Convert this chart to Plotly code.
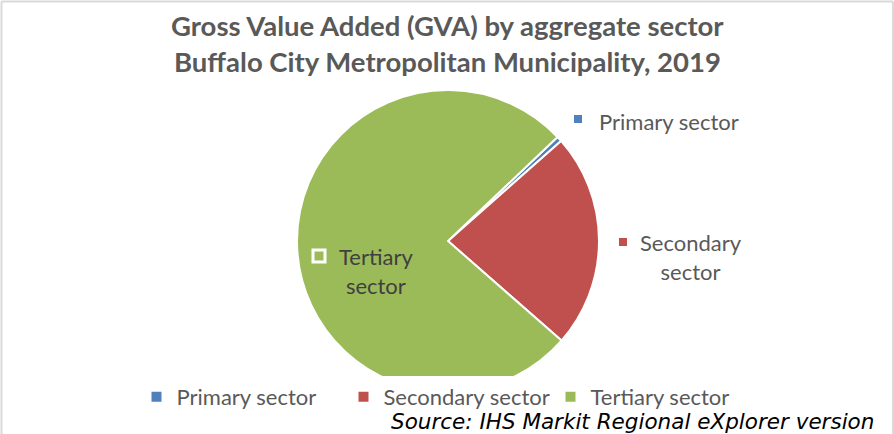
import plotly.graph_objects as go

W, H = 894, 434

sectors = ["Primary sector", "Secondary sector", "Tertiary sector"]
gva_share = [0.55, 23.0, 76.45]
colors = ["#4F81BD", "#C0504D", "#9BBB59"]

title_lines = ["Gross Value Added (GVA) by aggregate sector",
               "Buffalo City Metropolitan Municipality, 2019"]
source_note = "Source: IHS Markit Regional eXplorer version"

TEXT = "#595959"
FONT = "Lato"


def px(x):
    return x / W


def py(y):
    return 1 - y / H


fig = go.Figure()
fig.add_trace(go.Pie(
    labels=sectors,
    values=gva_share,
    sort=False,
    direction="clockwise",
    rotation=46.5,
    marker=dict(colors=colors, line=dict(color="white", width=2)),
    textinfo="none",
    hoverinfo="label+percent",
    domain=dict(x=[px(297), px(599)], y=[py(392), py(90)]),
))

annotations = [
    dict(x=0.5, y=py(25), text="<b>" + title_lines[0] + "</b>",
         font=dict(size=27.5, color=TEXT, family=FONT)),
    dict(x=0.5, y=py(62), text="<b>" + title_lines[1] + "</b>",
         font=dict(size=27.5, color=TEXT, family=FONT)),
    dict(x=px(876), y=py(421), xanchor="right", text="<i>" + source_note + "</i>",
         font=dict(size=21.5, color="black", family="DejaVu Sans")),
    # slice labels
    dict(x=px(597), y=py(121), xanchor="left", text=sectors[0],
         font=dict(size=22, color=TEXT, family=FONT)),
    dict(x=px(691), y=py(257), text="Secondary<br>sector", align="center",
         font=dict(size=22, color=TEXT, family=FONT)),
    dict(x=px(376), y=py(271), text="Tertiary<br>sector", align="center",
         font=dict(size=22, color="#404040", family=FONT)),
]
for a in annotations:
    a.setdefault("xanchor", "center")
    a.update(xref="paper", yref="paper", yanchor="middle", showarrow=False)

shapes = [
    # label keys
    dict(type="rect", x0=px(574), x1=px(582), y0=py(115), y1=py(123),
         fillcolor=colors[0], line=dict(width=0)),
    dict(type="rect", x0=px(619), x1=px(627), y0=py(238), y1=py(246),
         fillcolor=colors[1], line=dict(width=0)),
    dict(type="rect", x0=px(313), x1=px(325), y0=py(250), y1=py(262),
         fillcolor=colors[2], line=dict(width=3, color="white")),
    # chart frame
    dict(type="line", x0=px(1.5), x1=px(1.5), y0=0, y1=py(1.5),
         line=dict(width=2, color="#D9D9D9")),
    dict(type="line", x0=px(1.5), x1=px(893), y0=py(1.5), y1=py(1.5),
         line=dict(width=2, color="#D9D9D9")),
    dict(type="line", x0=px(893), x1=px(893), y0=0, y1=py(1.5),
         line=dict(width=2, color="#D9D9D9")),
]
for s in shapes:
    s.update(xref="paper", yref="paper")

fig.update_layout(
    width=W, height=H,
    margin=dict(l=0, r=0, t=0, b=0),
    paper_bgcolor="white",
    plot_bgcolor="white",
    showlegend=True,
    legend=dict(orientation="h", x=0.5, xanchor="center", y=py(397), yanchor="middle",
                font=dict(size=22, color=TEXT, family=FONT),
                itemwidth=30, tracegroupgap=0, entrywidth=162),
    annotations=annotations,
    shapes=shapes,
)

fig.write_html("out.html")
